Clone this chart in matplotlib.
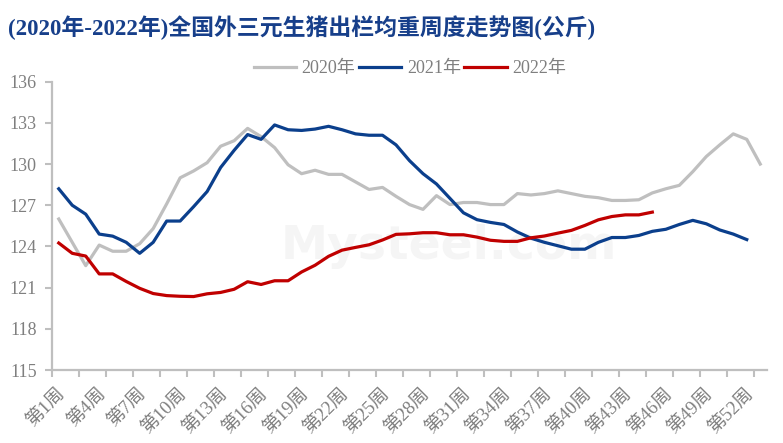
import matplotlib
matplotlib.use('Agg')
import matplotlib.pyplot as plt
import matplotlib.transforms as mtransforms

plt.rcParams['font.family'] = ['Liberation Serif', 'Noto Sans CJK SC', 'DejaVu Sans']

weeks = list(range(1, 54))
series_names = ['2020年', '2021年', '2022年']
y2020 = [126.0, 124.3, 122.6, 124.1, 123.65, 123.65, 124.2, 125.3, 127.1, 129.0,
         129.5, 130.1, 131.3, 131.7, 132.6, 132.0, 131.2, 129.95, 129.3, 129.55,
         129.25, 129.25, 128.7, 128.15, 128.3, 127.65, 127.05, 126.7, 127.7, 127.05,
         127.2, 127.2, 127.05, 127.05, 127.85, 127.75, 127.85, 128.05, 127.85, 127.65,
         127.55, 127.35, 127.35, 127.4, 127.9, 128.2, 128.45, 129.45, 130.55, 131.4,
         132.2, 131.8, 130.0]
y2021 = [128.2, 127.0, 126.35, 124.9, 124.75, 124.3, 123.5, 124.3, 125.85, 125.85,
         126.9, 128.0, 129.75, 131.0, 132.15, 131.8, 132.85, 132.5, 132.45, 132.55,
         132.75, 132.5, 132.2, 132.1, 132.1, 131.4, 130.25, 129.3, 128.55, 127.5,
         126.45, 125.95, 125.75, 125.6, 125.05, 124.6, 124.3, 124.05, 123.8, 123.8,
         124.3, 124.65, 124.65, 124.8, 125.1, 125.25, 125.6, 125.9, 125.65, 125.2,
         124.9, 124.5]
y2022 = [124.25, 123.5, 123.3, 122.0, 122.0, 121.45, 120.95, 120.57, 120.42, 120.37,
         120.35, 120.55, 120.65, 120.88, 121.43, 121.23, 121.5, 121.5, 122.14, 122.63,
         123.28, 123.73, 123.93, 124.12, 124.47, 124.88, 124.92, 125.0, 125.0, 124.85,
         124.85, 124.68, 124.45, 124.37, 124.37, 124.63, 124.76, 124.97, 125.17, 125.53,
         125.94, 126.18, 126.3, 126.3, 126.5]
label_weeks = list(range(1, 54, 3))
x_labels = ['第%d周' % w for w in label_weeks]
y_ticks = [115, 118, 121, 124, 127, 130, 133, 136]
title = '(2020年-2022年)全国外三元生猪出栏均重周度走势图(公斤)'

colors = ['#BFBFBF', '#0B3F8C', '#C00000']
gray_txt = '#7F7F7F'
axis_col = '#BFBFBF'

fig = plt.figure(figsize=(7.83, 4.43), dpi=100)
ax = fig.add_axes([52/783, 1-370/443, 715/783, (370-81.7)/443])

# faint watermark
ax.text(0.555, 0.43, 'Mysteel.com', transform=ax.transAxes, fontsize=34,
        color='#F5F5F5', ha='center', va='center', family='DejaVu Sans',
        fontweight='bold', zorder=0)

for ys, c, n in zip([y2020, y2021, y2022], colors, series_names):
    ax.plot(weeks[:len(ys)], ys, color=c, lw=2.3, label=n, zorder=3,
            solid_joinstyle='round')

ax.set_xlim(0.5, 53.5)
ax.set_ylim(115, 136)
ax.set_yticks(y_ticks)
ax.set_yticklabels([str(v) for v in y_ticks])

ax.set_xticks([0.5 + 2*k for k in range(27)])
ax.set_xticklabels([])
ax.set_xticks(label_weeks, minor=True)
ax.set_xticklabels(x_labels, minor=True, rotation=45, ha='right', va='top',
                   rotation_mode='anchor', fontsize=13.5, color=gray_txt)
ax.tick_params(axis='x', which='minor', length=0, pad=11)
ax.tick_params(axis='x', which='major', length=5, width=1.5, color=axis_col, direction='out')
ax.tick_params(axis='y', length=5, width=1.5, color=axis_col, direction='out',
               labelsize=13, labelcolor=gray_txt, pad=6)

for s in ['top', 'right']:
    ax.spines[s].set_visible(False)
for s in ['left', 'bottom']:
    ax.spines[s].set_color(axis_col)
    ax.spines[s].set_linewidth(1.6)

offset = mtransforms.ScaledTranslation(-2/100, 0, fig.dpi_scale_trans)
for lab in ax.get_xticklabels(minor=True):
    lab.set_transform(lab.get_transform() + offset)

leg = ax.legend(loc='center', bbox_to_anchor=(410 / 783, 1 - 69/443),
                bbox_transform=fig.transFigure,
                ncol=3, frameon=False, fontsize=13, handlelength=2.35,
                handletextpad=0.3, columnspacing=0.2, borderaxespad=0)
for t in leg.get_texts():
    t.set_color(gray_txt)

fig.text(8/783, 1 - 28/443, title, fontsize=16.5, fontweight='bold', color='#173F8A',
         ha='left', va='center')

fig.savefig('out.png', dpi=100)
